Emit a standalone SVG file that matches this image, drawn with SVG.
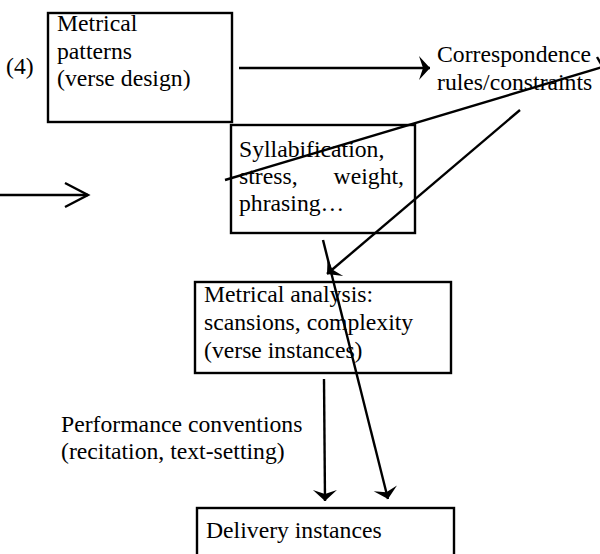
<svg xmlns="http://www.w3.org/2000/svg" width="600" height="554" viewBox="0 0 600 554">
<style>
text{font-family:'Liberation Serif','Times New Roman','DejaVu Serif',serif;font-size:23.7px;fill:#000}
.box{fill:#fff;stroke:#000;stroke-width:2.4}
.c{fill:none;stroke:#000;stroke-width:2.4}
</style>
<defs>
<marker id="ah" viewBox="-13 -13 15 26" markerWidth="15" markerHeight="26" refX="0" refY="0" orient="auto" markerUnits="userSpaceOnUse">
<path d="M0,0 L-11,-12 L-7,0 L-11,12 z" fill="#000"/>
</marker>
</defs>
<rect width="600" height="554" fill="#fff"/>
<text x="6" y="74">(4)</text>
<g id="metrical-patterns">
<rect class="box" x="48" y="13" width="184" height="109"/>
<text x="57" y="31">Metrical</text>
<text x="57" y="58.5">patterns</text>
<text x="57" y="86">(verse design)</text>
</g>
<g id="correspondence">
<text x="437" y="62">Correspondence</text>
<text x="437" y="90">rules/constraints</text>
</g>
<g id="syllabification">
<rect class="box" x="231" y="125" width="184" height="108"/>
<text x="239" y="157">Syllabification,</text>
<text x="239" y="184">stress,</text>
<text x="404" y="184" text-anchor="end">weight,</text>
<text x="239" y="211">phrasing…</text>
</g>
<g id="metrical-analysis">
<rect class="box" x="195" y="282" width="256" height="91"/>
<text x="204" y="302">Metrical analysis:</text>
<text x="204" y="330">scansions, complexity</text>
<text x="204" y="358">(verse instances)</text>
</g>
<g id="performance">
<text x="61" y="432">Performance conventions</text>
<text x="61" y="459">(recitation, text-setting)</text>
</g>
<g id="delivery">
<rect class="box" x="197" y="508" width="257" height="60"/>
<text x="206" y="538">Delivery instances</text>
</g>
<g id="connectors">
<line class="c" x1="239" y1="68" x2="430" y2="68" marker-end="url(#ah)"/>
<line class="c" x1="225" y1="180" x2="606" y2="66"/>
<line class="c" x1="597" y1="57" x2="601" y2="64"/>
<line class="c" x1="0" y1="195" x2="88" y2="195" stroke-width="1.8"/>
<polyline class="c" points="65,183 88,195 65,207" stroke-width="1.8"/>
<line class="c" x1="520" y1="110" x2="327" y2="274" marker-end="url(#ah)"/>
<line class="c" x1="323" y1="240" x2="388" y2="499" marker-end="url(#ah)"/>
<line class="c" x1="324" y1="379" x2="325" y2="501" marker-end="url(#ah)"/>
</g>
</svg>
